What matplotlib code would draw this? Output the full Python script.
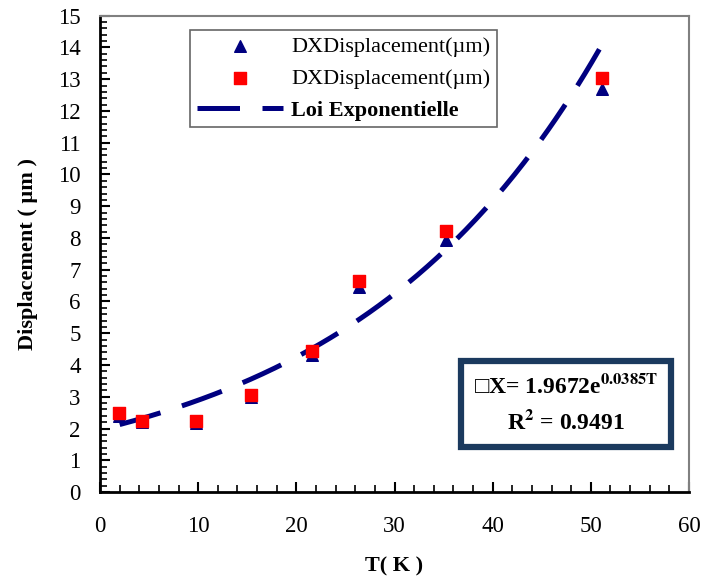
import numpy as np
from matplotlib import pyplot as plt
from matplotlib.ticker import MultipleLocator

temps = [1.9, 4.3, 9.8, 15.4, 21.6, 26.4, 35.2, 51.1]
disp_tri = [2.38, 2.2, 2.18, 2.98, 4.33, 6.45, 7.95, 12.7]
disp_sq = [2.5, 2.24, 2.25, 3.06, 4.44, 6.63, 8.22, 13.05]

# trendline coefficients as printed on the chart
fit_a = 1.9672
fit_b = 0.0385
fit_range = [2.0, 51.1]

serif = ['Liberation Serif', 'DejaVu Serif']
plt.rcParams['font.family'] = serif
plt.rcParams['mathtext.fontset'] = 'stix'

fig = plt.figure(figsize=(7.02, 5.76), dpi=100)
ax = fig.add_axes([0.1425, 0.1458, 0.839, 0.827])

t_fit = np.linspace(fit_range[0], fit_range[1], 200)
ax.plot(t_fit, fit_a * np.exp(fit_b * t_fit), color='#000080', lw=3.6,
        dashes=(8.5, 4.5), solid_capstyle='butt', zorder=2,
        label='Loi Exponentielle')
ax.scatter(temps, disp_tri, marker='^', s=70, color='#000080', zorder=3,
           label='DXDisplacement(µm)')
ax.scatter(temps, disp_sq, marker='s', s=75, color='#ff0000', zorder=4,
           label='DXDisplacement(µm)')

ax.set_xlim(0, 60)
ax.set_ylim(0, 15)
ax.xaxis.set_major_locator(MultipleLocator(10))
ax.xaxis.set_minor_locator(MultipleLocator(2))
ax.yaxis.set_major_locator(MultipleLocator(1))
ax.yaxis.set_minor_locator(MultipleLocator(0.2))
ax.tick_params(which='both', direction='in', labelsize=16.5, top=False, right=False)
ax.tick_params(which='major', length=7, width=1.5)
ax.tick_params(which='minor', length=5, width=1.2)
ax.tick_params(axis='x', pad=17)
ax.tick_params(axis='y', pad=14)

for side in ['left', 'bottom']:
    ax.spines[side].set_linewidth(2)
for side in ['top', 'right']:
    ax.spines[side].set_color('#808080')
    ax.spines[side].set_linewidth(1.5)

ax.set_xlabel('T( K )', fontsize=16, fontweight='bold', labelpad=14)
ax.set_ylabel('Displacement ( µm )', fontsize=16, fontweight='bold', labelpad=14)

handles, labels = ax.get_legend_handles_labels()
order = [1, 2, 0]
leg = ax.legend([handles[i] for i in order], [labels[i] for i in order],
                loc='upper left', bbox_to_anchor=(0.153, 0.97), borderaxespad=0,
                fontsize=16, frameon=True, fancybox=False, edgecolor='#404040',
                handlelength=3.9, borderpad=0.3, labelspacing=0.5,
                markerfirst=True, handletextpad=0.35)
leg.get_frame().set_linewidth(1.2)
leg.get_texts()[2].set_fontweight('bold')

ax.text(0.791, 0.185, '□X= 1.9672e$^{\\mathbf{0.0385T}}$\nR$^{\\mathbf{2}}$ = 0.9491',
        transform=ax.transAxes, ha='center', va='center', fontsize=17,
        fontweight='bold', family=serif, linespacing=1.6,
        bbox=dict(boxstyle='square,pad=0.55', facecolor='white',
                  edgecolor='#1b3a5e', linewidth=4.5))

fig.savefig('out.png', dpi=100)
